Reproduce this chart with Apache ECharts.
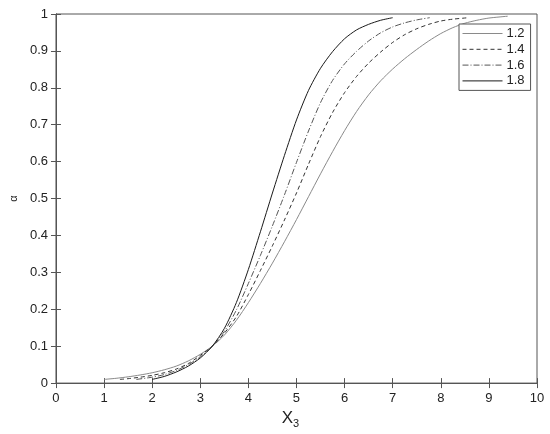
<!DOCTYPE html>
<html><head><meta charset="utf-8">
<script src="https://cdn.jsdelivr.net/npm/echarts@6/dist/echarts.min.js"></script>
<style>html,body{margin:0;padding:0;background:#fff}#c{width:550px;height:434px}</style>
</head><body><div id="c"></div>
<script>
const seriesNames = ['1.2', '1.4', '1.6', '1.8'];
const xTicks = [0, 1, 2, 3, 4, 5, 6, 7, 8, 9, 10];

const x12 = [1.0,1.25,1.5,1.75,2.0,2.25,2.5,2.75,3.0,3.25,3.5,3.75,4.0,4.25,4.5,4.75,5.0,5.25,5.5,5.75,6.0,6.25,6.5,6.75,7.0,7.25,7.5,7.75,8.0,8.25,8.5,8.75,9.0,9.39];
const y12 = [0.010,0.013,0.017,0.022,0.028,0.036,0.046,0.060,0.078,0.100,0.130,0.170,0.218,0.270,0.325,0.383,0.443,0.505,0.567,0.627,0.684,0.736,0.781,0.819,0.851,0.879,0.904,0.927,0.947,0.963,0.975,0.983,0.989,0.994];

const x14 = [1.33,1.5,1.75,2.0,2.25,2.5,2.75,3.0,3.25,3.5,3.75,4.0,4.25,4.5,4.75,5.0,5.25,5.5,5.75,6.0,6.25,6.5,6.75,7.0,7.25,7.5,7.75,8.0,8.25,8.58];
const y14 = [0.010,0.012,0.016,0.021,0.028,0.038,0.053,0.075,0.100,0.135,0.180,0.240,0.305,0.372,0.442,0.515,0.593,0.668,0.733,0.787,0.831,0.867,0.897,0.923,0.944,0.960,0.972,0.981,0.986,0.990];

const x16 = [1.67,2.0,2.25,2.5,2.75,3.0,3.25,3.5,3.75,4.0,4.25,4.5,4.75,5.0,5.25,5.5,5.75,6.0,6.25,6.5,6.75,7.0,7.25,7.5,7.77];
const y16 = [0.010,0.016,0.023,0.034,0.050,0.071,0.100,0.140,0.198,0.270,0.346,0.426,0.510,0.598,0.683,0.760,0.820,0.865,0.899,0.927,0.949,0.965,0.976,0.984,0.990];

const x18 = [2.0,2.25,2.5,2.75,3.0,3.25,3.5,3.75,4.0,4.25,4.5,4.75,5.0,5.25,5.5,5.75,6.0,6.25,6.5,6.75,7.0];
const y18 = [0.010,0.018,0.030,0.046,0.068,0.100,0.148,0.218,0.308,0.410,0.515,0.617,0.713,0.793,0.853,0.898,0.933,0.957,0.972,0.983,0.990];

const zip = (xs, ys) => xs.map((x, i) => [x, ys[i]]);
const FONT = '"Liberation Sans", Arial, Helvetica, sans-serif';
const AX = '#555';

const chart = echarts.init(document.getElementById('c'), null, {renderer: 'canvas'});

const baseX = {
  type: 'value', min: 0, max: 10, interval: 1,
  axisLine: {show: true, lineStyle: {color: AX, width: 1}},
  axisTick: {show: true, inside: true, length: 5, lineStyle: {color: AX}},
  splitLine: {show: false}
};
const baseY = {
  type: 'value', min: 0, max: 1, interval: 0.1,
  axisLine: {show: true, lineStyle: {color: AX, width: 1}},
  axisTick: {show: true, inside: true, length: 5, lineStyle: {color: AX}},
  splitLine: {show: false}
};

const styles = [
  {color: '#8a8a8a', type: 'solid'},
  {color: '#333333', type: [4, 3]},
  {color: '#555555', type: [6, 2, 1, 2]},
  {color: '#1a1a1a', type: 'solid'}
];
const dataSets = [zip(x12, y12), zip(x14, y14), zip(x16, y16), zip(x18, y18)];

const option = {
  animation: false,
  backgroundColor: '#fff',
  grid: {left: 43, right: 13, top: 14, bottom: 50, show: true, borderColor: AX, borderWidth: 1},
  legend: {
    data: seriesNames.map((n, i) => ({
      name: n,
      itemStyle: {color: 'rgba(0,0,0,0)', borderWidth: 0, opacity: 0},
      lineStyle: {color: styles[i].color, width: 1, type: styles[i].type}
    })),
    orient: 'vertical', left: 459, top: 24,
    itemWidth: 40, itemHeight: 13, itemGap: 2.8,
    padding: [3, 6, 3, 3],
    borderColor: AX, borderWidth: 1, backgroundColor: '#fff',
    textStyle: {fontFamily: FONT, fontSize: 13, color: '#222', padding: [0, 0, 0, -1]}
  },
  xAxis: [
    Object.assign({}, baseX, {
      position: 'bottom',
      axisLabel: {color: '#222', fontSize: 13, fontFamily: FONT, margin: 9},
      name: '{x|X}{s|3}', nameLocation: 'middle', nameGap: 10,
      nameTextStyle: {rich: {
        x: {fontSize: 17, fontFamily: FONT, color: '#222'},
        s: {fontSize: 11, fontFamily: FONT, color: '#222', verticalAlign: 'bottom', padding: [10, 12, 0, 0]}
      }}
    }),
    Object.assign({}, baseX, {position: 'top', axisLabel: {show: false}})
  ],
  yAxis: [
    Object.assign({}, baseY, {
      position: 'left',
      axisLabel: {color: '#222', fontSize: 13, fontFamily: FONT, margin: 8,
        formatter: v => String(Math.round(v * 10) / 10)},
      name: 'α', nameLocation: 'middle', nameGap: 28,
      nameTextStyle: {fontSize: 11, fontFamily: FONT, color: '#222'}
    }),
    Object.assign({}, baseY, {position: 'right', axisLabel: {show: false}})
  ],
  series: seriesNames.map((n, i) => ({
    name: n, type: 'line', xAxisIndex: 0, yAxisIndex: 0,
    data: dataSets[i], showSymbol: false, symbol: 'none',
    smooth: 0.25,
    itemStyle: {color: styles[i].color},
    lineStyle: {color: styles[i].color, width: 1, type: styles[i].type}
  }))
};
chart.setOption(option);
</script>
</body></html>
